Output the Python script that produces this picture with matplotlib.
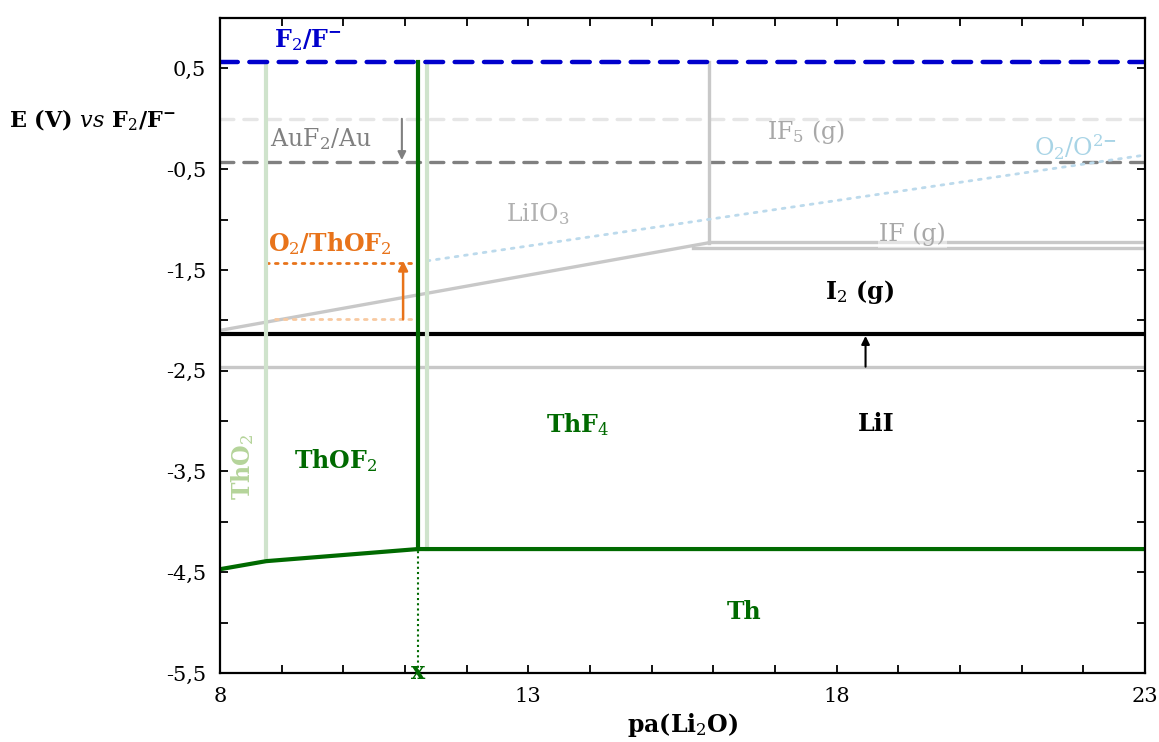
import numpy as np
import matplotlib.pyplot as plt
from matplotlib.ticker import FuncFormatter, MultipleLocator, FixedLocator

plt.rcParams['font.family'] = ['DejaVu Serif']
plt.rcParams['mathtext.fontset'] = 'dejavuserif'

# redox levels (V vs F2/F-)
E_F2 = 0.56
E_ref = 0.0
E_AuF2 = -0.43
E_I2 = -2.135
E_LiI = -2.46

# thorium lines
th_x = [8, 8.75, 11.21, 23]
th_y = [-4.47, -4.39, -4.27, -4.27]
x_ThOF2 = 11.21      # ThOF2 / ThF4 boundary
x_ThO2 = 8.75        # ThO2 / ThOF2 boundary (light)
x_ThF4_light = 11.36

# iodine species
liio3_x = [8, 15.93]
liio3_y = [-2.10, -1.23]
x_IF5 = 15.93
if_x1 = [15.93, 23]
if_y1 = -1.22
if_x2 = [15.67, 23]
if_y2 = -1.28

# oxygen
o2_x = [11.36, 23]
o2_y = [-1.41, -0.36]
o2thof2_x = [8.75, 11.1]
o2thof2_y = -1.43
o2thof2_old_x = [8.9, 11.2]
o2thof2_old_y = -1.99

fig = plt.figure(figsize=(11.59, 7.42), dpi=100)
ax = fig.add_axes([0.1898, 0.093, 0.798, 0.8827])

green = '#006a00'
lgreen = '#cfe3cc'
lgray = '#c8c8c8'
orange = '#e8731a'

# horizontal reference lines
ax.plot([8, 23], [E_ref, E_ref], color='#e6e6e6', lw=2.4, dashes=(4, 3), dash_capstyle='round')
ax.plot([8, 23], [E_AuF2, E_AuF2], color='#808080', lw=2.4, dashes=(4, 3), dash_capstyle='round')
ax.plot([8, 23], [E_LiI, E_LiI], color=lgray, lw=2.4)
ax.plot([8, 23], [E_I2, E_I2], color='black', lw=3)

# iodine region
ax.plot(liio3_x, liio3_y, color=lgray, lw=2.4)
ax.plot([x_IF5, x_IF5], [liio3_y[1], E_F2], color=lgray, lw=2.4)
ax.plot(if_x1, [if_y1, if_y1], color=lgray, lw=2.4)
ax.plot(if_x2, [if_y2, if_y2], color=lgray, lw=2.4)

# oxygen lines
ax.plot(o2_x, o2_y, color='#bcdaec', lw=2, ls=(0, (1, 2.4)), dash_capstyle='round')
ax.plot(o2thof2_x, [o2thof2_y, o2thof2_y], color=orange, lw=2, ls=(0, (1, 2.2)), dash_capstyle='round')
ax.plot(o2thof2_old_x, [o2thof2_old_y, o2thof2_old_y], color='#f8c9a0', lw=2, ls=(0, (1, 2.2)), dash_capstyle='round')

# thorium
ax.plot([x_ThO2, x_ThO2], [th_y[1], E_F2], color=lgreen, lw=3)
ax.plot([x_ThF4_light, x_ThF4_light], [th_y[2], E_F2], color=lgreen, lw=3)
ax.plot([x_ThOF2, x_ThOF2], [th_y[2], E_F2], color=green, lw=3)
ax.plot(th_x, th_y, color=green, lw=3)
ax.plot([x_ThOF2, x_ThOF2], [-5.5, th_y[2]], color=green, lw=1.5, ls=(0, (1, 1.5)))

# F2/F- on top
ax.plot([8, 23], [E_F2, E_F2], color='#0000cc', lw=3.2, dashes=(4, 2.6), dash_capstyle='round')

# arrows
ax.annotate('', xy=(10.95, E_AuF2 + 0.02), xytext=(10.95, E_ref),
            arrowprops=dict(arrowstyle='-|>', color='#808080', lw=1.5, mutation_scale=12, shrinkA=0, shrinkB=0))
ax.annotate('', xy=(10.97, o2thof2_y + 0.02), xytext=(10.97, o2thof2_old_y),
            arrowprops=dict(arrowstyle='-|>', color=orange, lw=1.8, mutation_scale=14, shrinkA=0, shrinkB=0))
ax.annotate('', xy=(18.47, E_I2 - 0.02), xytext=(18.47, E_LiI),
            arrowprops=dict(arrowstyle='-|>', color='black', lw=1.5, mutation_scale=12, shrinkA=0, shrinkB=0))

# labels
fs = 17
ax.text(9.43, 0.78, r'F$_2$/F$^{\mathbf{-}}$', color='#0000cc', fontsize=fs, fontweight='bold', ha='center', va='center')
ax.text(9.64, -0.2, r'AuF$_2$/Au', color='#808080', fontsize=fs, ha='center', va='center')
ax.text(17.5, -0.13, r'IF$_5$ (g)', color='#a8a8a8', fontsize=fs, ha='center', va='center')
ax.text(13.15, -0.95, r'LiIO$_3$', color='#b0b0b0', fontsize=fs, ha='center', va='center')
ax.text(19.23, -1.15, 'IF (g)', color='#a8a8a8', fontsize=fs, ha='center', va='center',
        bbox=dict(facecolor='white', edgecolor='none', alpha=0.5, pad=1))
ax.text(21.88, -0.28, r'O$_2$/O$^{2\mathbf{-}}$', color='#a8d4e6', fontsize=fs, ha='center', va='center')
ax.text(9.78, -1.24, r'O$_2$/ThOF$_2$', color=orange, fontsize=fs, fontweight='bold', ha='center', va='center')
ax.text(18.38, -1.72, r'I$_2$ (g)', color='black', fontsize=fs, fontweight='bold', ha='center', va='center')
ax.text(13.8, -3.03, r'ThF$_4$', color=green, fontsize=fs, fontweight='bold', ha='center', va='center')
ax.text(18.64, -3.03, 'LiI', color='black', fontsize=fs, fontweight='bold', ha='center', va='center')
ax.text(9.88, -3.39, r'ThOF$_2$', color=green, fontsize=fs, fontweight='bold', ha='center', va='center')
ax.text(8.37, -3.45, r'ThO$_2$', color='#b5d49a', fontsize=fs, fontweight='bold', ha='center', va='center', rotation=90)
ax.text(16.5, -4.89, 'Th', color=green, fontsize=fs, fontweight='bold', ha='center', va='center')
ax.text(x_ThOF2, -5.49, 'x', color=green, fontsize=17, fontweight='bold', ha='center', va='center')

ax.set_xlim(8, 23)
ax.set_ylim(-5.5, 1.0)
ax.xaxis.set_major_locator(FixedLocator([8, 13, 18, 23]))
ax.xaxis.set_minor_locator(MultipleLocator(1))
ax.yaxis.set_major_locator(FixedLocator(np.arange(-5.5, 0.6, 1.0)))
ax.yaxis.set_minor_locator(FixedLocator(np.arange(-5.0, 0.1, 1.0)))
ax.yaxis.set_major_formatter(FuncFormatter(lambda v, p: ('%.1f' % v).replace('.', ',')))
ax.xaxis.set_major_formatter(FuncFormatter(lambda v, p: '%d' % v))
ax.tick_params(which='both', direction='in', top=True, right=True, labelsize=15, width=1.3)
ax.tick_params(which='major', length=6, pad=10)
ax.tick_params(which='minor', length=6)
for s in ax.spines.values():
    s.set_linewidth(1.6)

ax.set_xlabel(r'pa(Li$_2$O)', fontsize=17, fontweight='bold', labelpad=4)
fig.text(0.008, 0.838, r'E (V) $\it{vs}$ F$_2$/F$^{\mathbf{-}}$', fontsize=16, fontweight='bold', ha='left', va='center')

fig.savefig('out.png', dpi=100)
